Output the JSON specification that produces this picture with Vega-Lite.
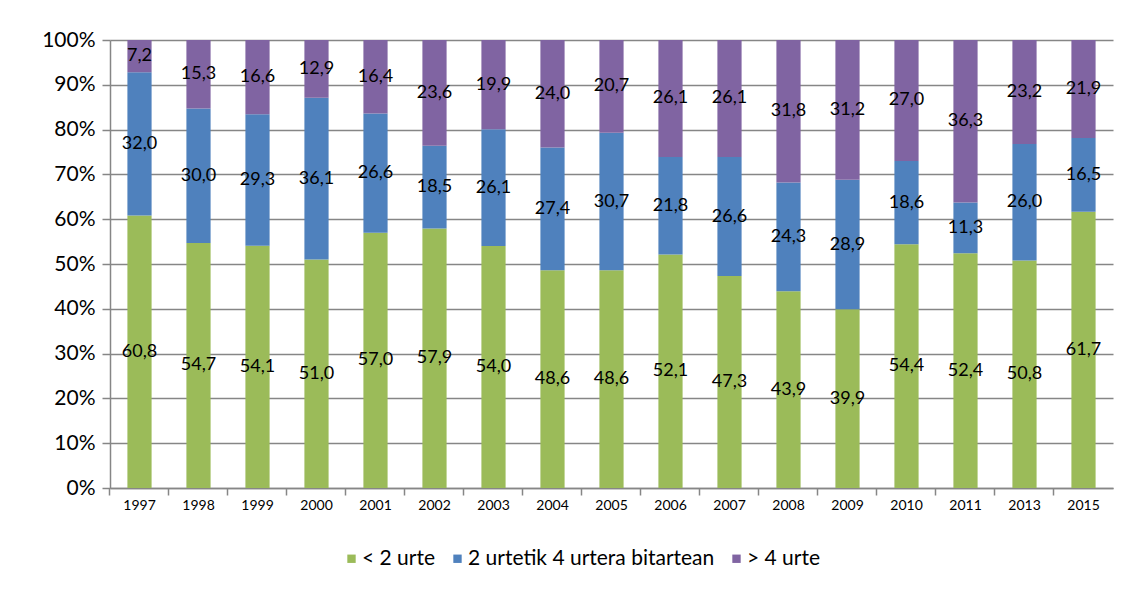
{
  "$schema": "https://vega.github.io/schema/vega-lite/v6.json",
  "width": 1003,
  "height": 448,
  "autosize": {"type": "none"},
  "padding": {"left": 110, "top": 40, "right": 22, "bottom": 103},
  "background": "white",
  "config": {
    "locale": {"number": {"decimal": ",", "thousands": ".", "grouping": [3], "currency": ["", " €"]}},
    "font": "Lato",
    "view": {"stroke": null}
  },
  "data": {
    "values": [
      {"year": "1997", "cat": "< 2 urte", "k": 1, "v": 60.8},
      {"year": "1997", "cat": "2 urtetik 4 urtera bitartean", "k": 2, "v": 32.0},
      {"year": "1997", "cat": "> 4 urte", "k": 3, "v": 7.2},
      {"year": "1998", "cat": "< 2 urte", "k": 1, "v": 54.7},
      {"year": "1998", "cat": "2 urtetik 4 urtera bitartean", "k": 2, "v": 30.0},
      {"year": "1998", "cat": "> 4 urte", "k": 3, "v": 15.3},
      {"year": "1999", "cat": "< 2 urte", "k": 1, "v": 54.1},
      {"year": "1999", "cat": "2 urtetik 4 urtera bitartean", "k": 2, "v": 29.3},
      {"year": "1999", "cat": "> 4 urte", "k": 3, "v": 16.6},
      {"year": "2000", "cat": "< 2 urte", "k": 1, "v": 51.0},
      {"year": "2000", "cat": "2 urtetik 4 urtera bitartean", "k": 2, "v": 36.1},
      {"year": "2000", "cat": "> 4 urte", "k": 3, "v": 12.9},
      {"year": "2001", "cat": "< 2 urte", "k": 1, "v": 57.0},
      {"year": "2001", "cat": "2 urtetik 4 urtera bitartean", "k": 2, "v": 26.6},
      {"year": "2001", "cat": "> 4 urte", "k": 3, "v": 16.4},
      {"year": "2002", "cat": "< 2 urte", "k": 1, "v": 57.9},
      {"year": "2002", "cat": "2 urtetik 4 urtera bitartean", "k": 2, "v": 18.5},
      {"year": "2002", "cat": "> 4 urte", "k": 3, "v": 23.6},
      {"year": "2003", "cat": "< 2 urte", "k": 1, "v": 54.0},
      {"year": "2003", "cat": "2 urtetik 4 urtera bitartean", "k": 2, "v": 26.1},
      {"year": "2003", "cat": "> 4 urte", "k": 3, "v": 19.9},
      {"year": "2004", "cat": "< 2 urte", "k": 1, "v": 48.6},
      {"year": "2004", "cat": "2 urtetik 4 urtera bitartean", "k": 2, "v": 27.4},
      {"year": "2004", "cat": "> 4 urte", "k": 3, "v": 24.0},
      {"year": "2005", "cat": "< 2 urte", "k": 1, "v": 48.6},
      {"year": "2005", "cat": "2 urtetik 4 urtera bitartean", "k": 2, "v": 30.7},
      {"year": "2005", "cat": "> 4 urte", "k": 3, "v": 20.7},
      {"year": "2006", "cat": "< 2 urte", "k": 1, "v": 52.1},
      {"year": "2006", "cat": "2 urtetik 4 urtera bitartean", "k": 2, "v": 21.8},
      {"year": "2006", "cat": "> 4 urte", "k": 3, "v": 26.1},
      {"year": "2007", "cat": "< 2 urte", "k": 1, "v": 47.3},
      {"year": "2007", "cat": "2 urtetik 4 urtera bitartean", "k": 2, "v": 26.6},
      {"year": "2007", "cat": "> 4 urte", "k": 3, "v": 26.1},
      {"year": "2008", "cat": "< 2 urte", "k": 1, "v": 43.9},
      {"year": "2008", "cat": "2 urtetik 4 urtera bitartean", "k": 2, "v": 24.3},
      {"year": "2008", "cat": "> 4 urte", "k": 3, "v": 31.8},
      {"year": "2009", "cat": "< 2 urte", "k": 1, "v": 39.9},
      {"year": "2009", "cat": "2 urtetik 4 urtera bitartean", "k": 2, "v": 28.9},
      {"year": "2009", "cat": "> 4 urte", "k": 3, "v": 31.2},
      {"year": "2010", "cat": "< 2 urte", "k": 1, "v": 54.4},
      {"year": "2010", "cat": "2 urtetik 4 urtera bitartean", "k": 2, "v": 18.6},
      {"year": "2010", "cat": "> 4 urte", "k": 3, "v": 27.0},
      {"year": "2011", "cat": "< 2 urte", "k": 1, "v": 52.4},
      {"year": "2011", "cat": "2 urtetik 4 urtera bitartean", "k": 2, "v": 11.3},
      {"year": "2011", "cat": "> 4 urte", "k": 3, "v": 36.3},
      {"year": "2013", "cat": "< 2 urte", "k": 1, "v": 50.8},
      {"year": "2013", "cat": "2 urtetik 4 urtera bitartean", "k": 2, "v": 26.0},
      {"year": "2013", "cat": "> 4 urte", "k": 3, "v": 23.2},
      {"year": "2015", "cat": "< 2 urte", "k": 1, "v": 61.7},
      {"year": "2015", "cat": "2 urtetik 4 urtera bitartean", "k": 2, "v": 16.5},
      {"year": "2015", "cat": "> 4 urte", "k": 3, "v": 21.9}
    ]
  },
  "resolve": {"axis": {"x": "independent"}},
  "layer": [
    {
      "mark": {"type": "bar"},
      "encoding": {
        "x": {
          "field": "year", "type": "ordinal",
          "scale": {"paddingInner": 0.59, "paddingOuter": 0.295},
          "axis": {
            "title": null, "orient": "bottom", "labelAngle": 0, "labelFontSize": 14, "labelColor": "#000000",
            "labelPadding": 10, "ticks": false, "domainColor": "#868686", "domainWidth": 1.5
          }
        },
        "order": {"field": "k", "type": "quantitative"},
        "y": {
          "field": "v", "type": "quantitative", "stack": "normalize",
          "scale": {"domain": [0, 1]},
          "axis": {
            "title": null, "format": "%", "values": [0, 0.1, 0.2, 0.3, 0.4, 0.5, 0.6, 0.7, 0.8, 0.9, 1],
            "labelOverlap": false, "labelFontSize": 21, "labelColor": "#000000", "labelPadding": 7,
            "tickSize": 8, "tickColor": "#868686", "tickWidth": 1.5,
            "domainColor": "#868686", "domainWidth": 1.5,
            "grid": true, "gridColor": "#868686", "gridWidth": 1.5
          }
        },
        "color": {
          "field": "cat", "type": "nominal",
          "scale": {
            "domain": ["< 2 urte", "2 urtetik 4 urtera bitartean", "> 4 urte"],
            "range": ["#9BBB59", "#4F81BD", "#8064A2"]
          },
          "legend": {
            "title": null, "orient": "none", "direction": "horizontal",
            "legendX": 231, "legendY": 508,
            "symbolType": "square", "symbolSize": 70, "symbolStrokeWidth": 0,
            "labelFontSize": 21, "labelColor": "#000000", "labelOffset": 0, "labelLimit": 0,
            "columnPadding": 11
          }
        }
      }
    },
    {
      "mark": {"type": "text", "fontSize": 18, "color": "#000000", "baseline": "middle"},
      "encoding": {
        "x": {
          "field": "year", "type": "ordinal",
          "axis": {
            "title": null, "orient": "bottom", "labels": false, "domain": false, "grid": false,
            "bandPosition": -0.72, "ticks": true, "tickSize": 7, "tickColor": "#868686", "tickWidth": 1.5
          }
        },
        "order": {"field": "k", "type": "quantitative"},
        "y": {"field": "v", "type": "quantitative", "stack": "normalize", "bandPosition": 0.5},
        "text": {"field": "v", "type": "quantitative", "format": ".1f"}
      }
    }
  ]
}
